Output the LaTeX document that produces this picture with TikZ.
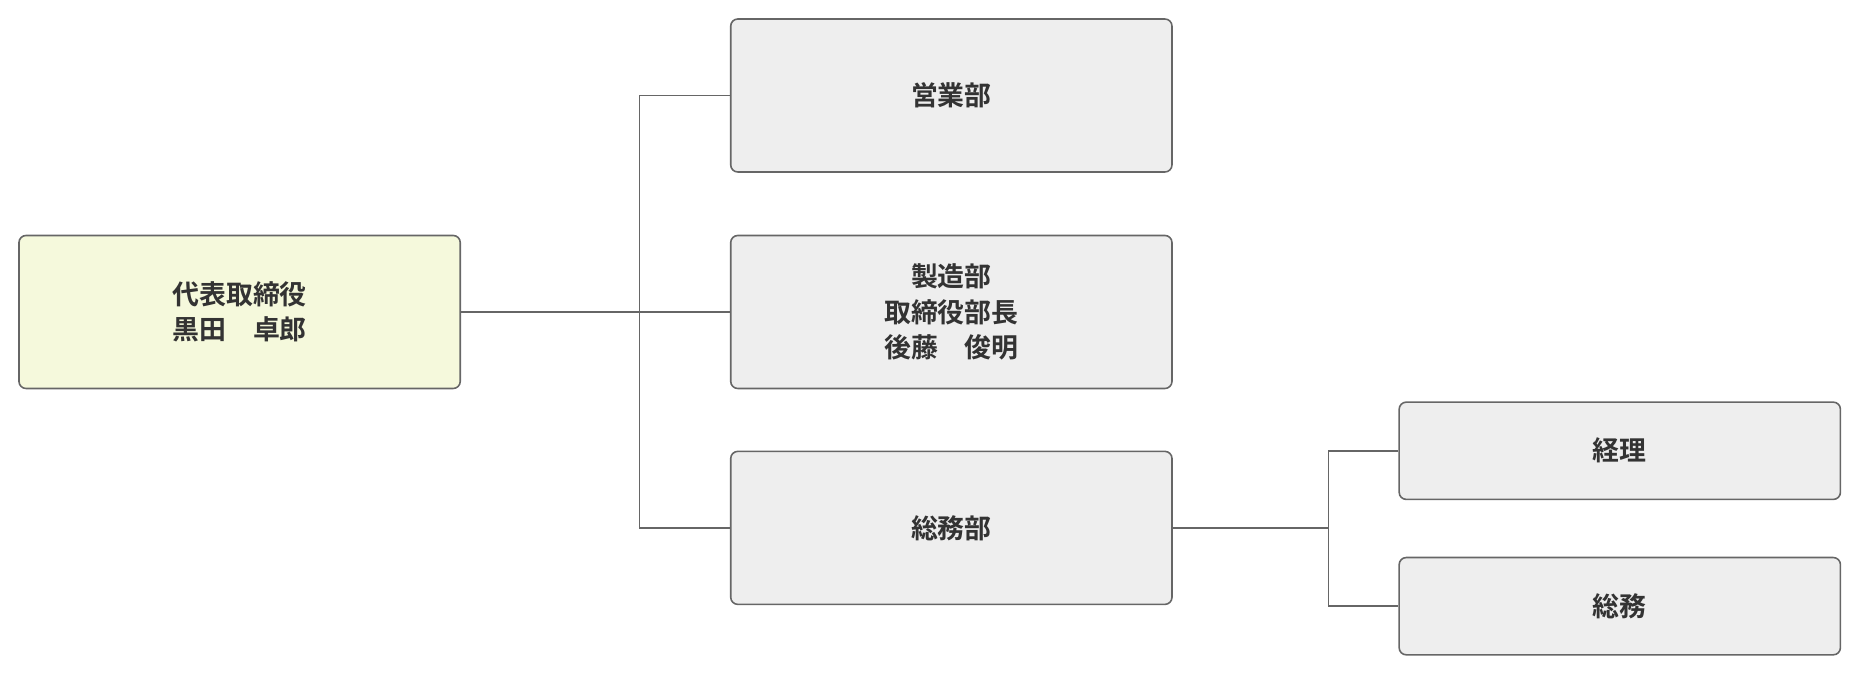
\documentclass[tikz,border=0pt]{standalone}
\usepackage{fontspec}
\newfontfamily\cjk{Noto Sans CJK JP Bold}
\begin{document}
\begin{tikzpicture}[x=0.75pt,y=-0.75pt,
  box/.style={draw=black!60,line width=1pt,rounded corners=4.5pt,fill=black!6.5,
    minimum width=279pt,minimum height=96.75pt,align=center,
    font=\cjk\fontsize{17pt}{22.5pt}\selectfont,text=black!80},
  sbox/.style={box,minimum height=61.5pt},
  con/.style={draw=black!60,line width=1pt}]
\useasboundingbox (0,0) rectangle (1568,569);
\node[box,fill={rgb,255:red,245;green,249;blue,220}] (root) at (202,263) {代表取締役\\黒田\quad 卓郎};
\node[box] (eigyo) at (802,80.5) {営業部};
\node[box] (seizo) at (802,263) {製造部\\取締役部長\\後藤\quad 俊明};
\node[box] (somu) at (802,445) {総務部};
\node[sbox] (keiri) at (1365.5,380) {経理};
\node[sbox] (somu2) at (1365.5,511) {総務};
\coordinate (j1) at (539,263);
\coordinate (j2) at (1120,445);
\draw[con] (root.east) -- (seizo.west);
\draw[con] (eigyo.west) -| (j1) |- (somu.west);
\draw[con] (somu.east) -- (j2);
\draw[con] (keiri.west) -| (j2) |- (somu2.west);
\end{tikzpicture}
\end{document}
